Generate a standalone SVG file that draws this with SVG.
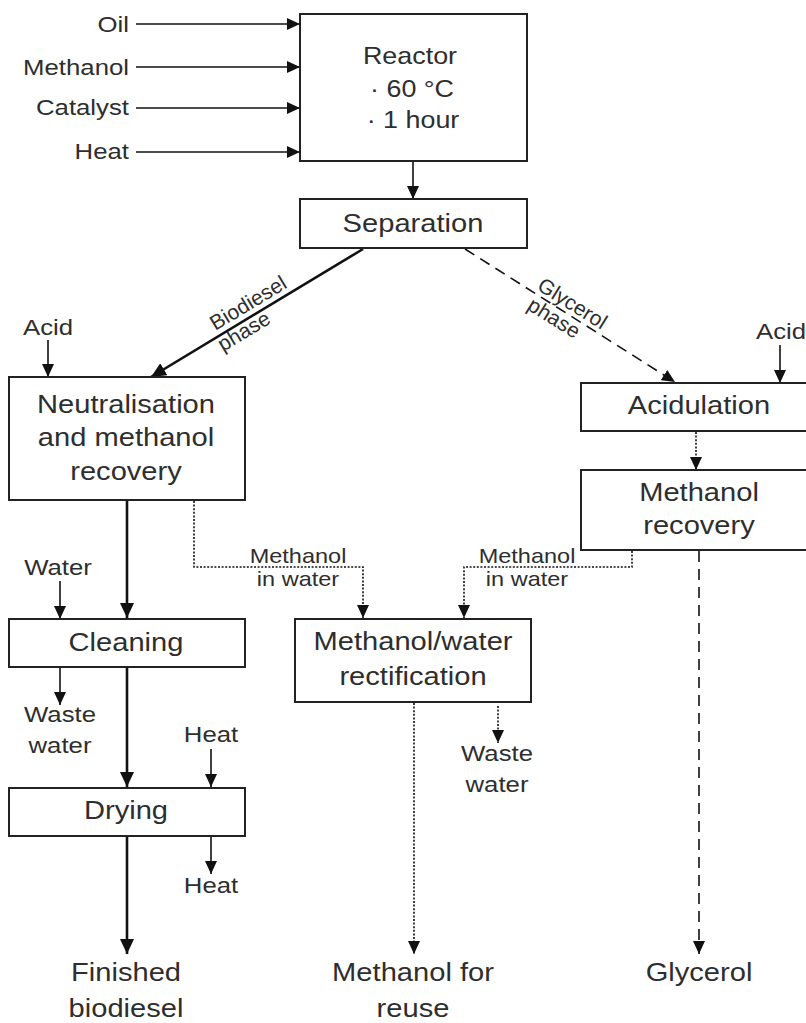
<svg xmlns="http://www.w3.org/2000/svg" width="806" height="1023" viewBox="0 0 806 1023">
<style>
text{font-family:"Liberation Sans",Arial,sans-serif;fill:#2e2e2e;text-anchor:middle}
.b{font-size:26px}
.r{font-size:24px}
.l{font-size:23px}
.s{font-size:21px}
.d{font-size:21px}
.e{text-anchor:end}
.box{fill:#fff;stroke:#222;stroke-width:2}
.th{fill:none;stroke:#111;stroke-width:1.6}
.tk{fill:none;stroke:#111;stroke-width:2.6}
.dot{fill:none;stroke:#111;stroke-width:1.6;stroke-dasharray:2 1.6}
.dash{fill:none;stroke:#111;stroke-width:1.6;stroke-dasharray:11 7}
</style>
<defs>
<marker id="a" markerUnits="userSpaceOnUse" markerWidth="13" markerHeight="12" refX="13" refY="6" orient="auto"><path d="M0,0 L13,6 L0,12 z" fill="#111"/></marker>
<marker id="ab" markerUnits="userSpaceOnUse" markerWidth="15" markerHeight="14" refX="15" refY="7" orient="auto"><path d="M0,0 L15,7 L0,14 z" fill="#111"/></marker>
</defs>

<g id="connectors">
<line class="th" x1="136" y1="24" x2="300" y2="24" marker-end="url(#a)"/>
<line class="th" x1="136" y1="67" x2="300" y2="67" marker-end="url(#a)"/>
<line class="th" x1="136" y1="108" x2="300" y2="108" marker-end="url(#a)"/>
<line class="th" x1="136" y1="152" x2="300" y2="152" marker-end="url(#a)"/>
<line class="th" x1="413" y1="162" x2="413" y2="199" marker-end="url(#a)"/>
<line class="tk" x1="363" y1="249" x2="151" y2="377" marker-end="url(#ab)"/>
<line class="dash" x1="465" y1="249" x2="675" y2="382" marker-end="url(#a)"/>
<line class="th" x1="48" y1="340" x2="48" y2="377" marker-end="url(#a)"/>
<line class="th" x1="780" y1="345" x2="780" y2="383" marker-end="url(#a)"/>
<line class="dot" x1="696" y1="432" x2="696" y2="470" marker-end="url(#a)"/>
<line class="tk" x1="127" y1="501" x2="127" y2="618" marker-end="url(#ab)"/>
<line class="th" x1="60" y1="581" x2="60" y2="619" marker-end="url(#a)"/>
<line class="th" x1="60" y1="668" x2="60" y2="705" marker-end="url(#a)"/>
<line class="tk" x1="127" y1="668" x2="127" y2="787" marker-end="url(#ab)"/>
<line class="th" x1="211" y1="749" x2="211" y2="787" marker-end="url(#a)"/>
<line class="th" x1="211" y1="837" x2="211" y2="874" marker-end="url(#a)"/>
<line class="tk" x1="127" y1="837" x2="127" y2="954" marker-end="url(#ab)"/>
<polyline class="dot" points="194,501 194,567 363,567 363,618" marker-end="url(#a)"/>
<polyline class="dot" points="632,551 632,567 464,567 464,618" marker-end="url(#a)"/>
<line class="dot" x1="414" y1="703" x2="414" y2="954" marker-end="url(#a)"/>
<line class="dot" x1="498" y1="706" x2="498" y2="743" marker-end="url(#a)"/>
<line class="dash" x1="699" y1="551" x2="699" y2="954" marker-end="url(#a)"/>
</g>

<g id="input-labels">
<text class="l e" transform="translate(129,32) scale(1.12,1)">Oil</text>
<text class="l e" transform="translate(129,75) scale(1.12,1)">Methanol</text>
<text class="l e" transform="translate(129,115) scale(1.12,1)">Catalyst</text>
<text class="l e" transform="translate(129,159) scale(1.12,1)">Heat</text>
<text class="l" transform="translate(48,335) scale(1.12,1)">Acid</text>
<text class="l" transform="translate(781,339) scale(1.12,1)">Acid</text>
<text class="l" transform="translate(58,575) scale(1.12,1)">Water</text>
<text class="l" transform="translate(60,722) scale(1.12,1)">Waste</text>
<text class="l" transform="translate(60,753) scale(1.12,1)">water</text>
<text class="l" transform="translate(211,742) scale(1.12,1)">Heat</text>
<text class="l" transform="translate(211,893) scale(1.12,1)">Heat</text>
<text class="l" transform="translate(497,761) scale(1.12,1)">Waste</text>
<text class="l" transform="translate(497,792) scale(1.12,1)">water</text>
<text class="s" transform="translate(298,563) scale(1.12,1)">Methanol</text>
<text class="s" transform="translate(298,586) scale(1.12,1)">in water</text>
<text class="s" transform="translate(527,563) scale(1.12,1)">Methanol</text>
<text class="s" transform="translate(527,586) scale(1.12,1)">in water</text>
<g transform="translate(250,316) rotate(-31)">
<text class="d" x="5" y="-5">Biodiesel</text>
<text class="d" x="-13" y="17">phase</text>
</g>
<g transform="translate(570,315) rotate(32)">
<text class="d" x="-4" y="-4">Glycerol</text>
<text class="d" x="-12" y="18">phase</text>
</g>
</g>

<g id="reactor">
<rect class="box" x="300" y="14" width="227" height="147"/>
<text class="r" transform="translate(410,64) scale(1.12,1)">Reactor</text>
<text class="r" transform="translate(412,97) scale(1.12,1)">· 60 °C</text>
<text class="r" transform="translate(413,128) scale(1.12,1)">· 1 hour</text>
</g>
<g id="separation">
<rect class="box" x="300" y="199" width="227" height="49"/>
<text class="b" transform="translate(413,232) scale(1.12,1)">Separation</text>
</g>
<g id="neutralisation">
<rect class="box" x="9" y="377" width="236" height="123"/>
<text class="b" transform="translate(126,413) scale(1.12,1)">Neutralisation</text>
<text class="b" transform="translate(126,446) scale(1.12,1)">and methanol</text>
<text class="b" transform="translate(126,480) scale(1.12,1)">recovery</text>
</g>
<g id="acidulation">
<rect class="box" x="581" y="383" width="230" height="48"/>
<text class="b" transform="translate(699,414) scale(1.12,1)">Acidulation</text>
</g>
<g id="methanol-recovery">
<rect class="box" x="581" y="470" width="230" height="80"/>
<text class="b" transform="translate(699,501) scale(1.12,1)">Methanol</text>
<text class="b" transform="translate(699,534) scale(1.12,1)">recovery</text>
</g>
<g id="cleaning">
<rect class="box" x="9" y="619" width="236" height="48"/>
<text class="b" transform="translate(126,651) scale(1.12,1)">Cleaning</text>
</g>
<g id="rectification">
<rect class="box" x="295" y="619" width="236" height="83"/>
<text class="b" transform="translate(413,650) scale(1.12,1)">Methanol/water</text>
<text class="b" transform="translate(413,685) scale(1.12,1)">rectification</text>
</g>
<g id="drying">
<rect class="box" x="9" y="788" width="236" height="48"/>
<text class="b" transform="translate(126,819) scale(1.12,1)">Drying</text>
</g>
<g id="outputs">
<text class="b" transform="translate(126,981) scale(1.12,1)">Finished</text>
<text class="b" transform="translate(126,1017) scale(1.12,1)">biodiesel</text>
<text class="b" transform="translate(413,981) scale(1.12,1)">Methanol for</text>
<text class="b" transform="translate(413,1017) scale(1.12,1)">reuse</text>
<text class="b" transform="translate(699,981) scale(1.12,1)">Glycerol</text>
</g>
</svg>
